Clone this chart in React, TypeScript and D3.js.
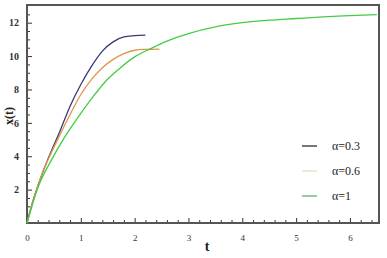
import React, { useEffect, useRef } from 'react';
import * as d3 from 'd3';

// alpha = 0.3
const tBlue = [0, 0.1, 0.2, 0.3, 0.45, 0.6, 0.8, 1.0, 1.2, 1.4, 1.6, 1.8, 2.0, 2.2];
const xBlue = [0, 1.2, 2.2, 3.1, 4.3, 5.4, 7.0, 8.3, 9.4, 10.3, 10.85, 11.15, 11.22, 11.26];

// alpha = 0.6
const tOrange = [0, 0.1, 0.2, 0.3, 0.45, 0.6, 0.8, 1.0, 1.2, 1.4, 1.6, 1.8, 2.0, 2.2, 2.46];
const xOrange = [0, 1.2, 2.2, 3.1, 4.2, 5.2, 6.5, 7.7, 8.6, 9.3, 9.8, 10.15, 10.35, 10.4, 10.42];

// alpha = 1
const tGreen = [0, 0.2, 0.45, 0.7, 0.95, 1.2, 1.45, 1.7, 2.0, 2.3, 2.6, 3.0, 3.5, 4.0, 4.5, 5.0, 5.5, 6.0, 6.5];
const xGreen = [0, 2.1, 3.75, 5.15, 6.35, 7.45, 8.45, 9.2, 9.95, 10.45, 10.9, 11.35, 11.75, 12.0, 12.15, 12.25, 12.35, 12.42, 12.48];

const legendLabels = ['α=0.3', 'α=0.6', 'α=1'];
const xTicks = [0, 1, 2, 3, 4, 5, 6];
const yTicks = [2, 4, 6, 8, 10, 12];

const App = () => {
  const ref = useRef<SVGSVGElement>(null);

  useEffect(() => {
    const width = 387;
    const height = 258;
    const margin = { top: 5, right: 8, bottom: 35, left: 27 };
    const innerWidth = width - margin.left - margin.right;
    const innerHeight = height - margin.top - margin.bottom;
    const font = '"Liberation Serif", "DejaVu Serif", serif';

    const svg = d3.select(ref.current);
    svg.selectAll('*').remove();

    const chart = svg.append('g')
      .attr('transform', `translate(${margin.left}, ${margin.top})`);

    const x = d3.scaleLinear().domain([0, 6.54]).range([0, innerWidth]);
    const y = d3.scaleLinear().domain([0, 13.06]).range([innerHeight, 0]);

    // minor ticks
    const xMinor = d3.range(0, 6.54, 0.2).filter(v => Math.abs(v - Math.round(v)) > 0.01);
    const yMinor = d3.range(0.5, 13, 0.5).filter(v => Math.abs(v / 2 - Math.round(v / 2)) > 0.01);

    chart.append('g')
      .attr('transform', `translate(0, ${innerHeight})`)
      .call(d3.axisBottom(x).tickValues(xMinor).tickSize(-3).tickFormat(() => ''))
      .call(g => g.select('.domain').remove())
      .call(g => g.selectAll('line').attr('stroke', '#333'));

    chart.append('g')
      .call(d3.axisLeft(y).tickValues(yMinor).tickSize(-3).tickFormat(() => ''))
      .call(g => g.select('.domain').remove())
      .call(g => g.selectAll('line').attr('stroke', '#333'));

    // major ticks
    chart.append('g')
      .attr('transform', `translate(0, ${innerHeight})`)
      .call(d3.axisBottom(x).tickValues(xTicks).tickSize(-5).tickPadding(12).tickFormat(d3.format('d')))
      .call(g => g.select('.domain').remove())
      .call(g => g.selectAll('line').attr('stroke', '#333'))
      .call(g => g.selectAll('text')
        .attr('font-family', font)
        .attr('font-size', 9)
        .attr('fill', '#333'));

    chart.append('g')
      .call(d3.axisLeft(y).tickValues(yTicks).tickSize(-5).tickPadding(8).tickFormat(d3.format('d')))
      .call(g => g.select('.domain').remove())
      .call(g => g.selectAll('line').attr('stroke', '#333'))
      .call(g => g.selectAll('text')
        .attr('font-family', font)
        .attr('font-size', 10)
        .attr('font-weight', 'bold')
        .attr('fill', '#333'));

    // frame
    chart.append('rect')
      .attr('x', 0)
      .attr('y', 0)
      .attr('width', innerWidth)
      .attr('height', innerHeight)
      .attr('fill', 'none')
      .attr('stroke', '#555')
      .attr('stroke-width', 2);

    const line = d3.line<[number, number]>()
      .x(d => x(d[0]))
      .y(d => y(d[1]))
      .curve(d3.curveMonotoneX);

    const series = [
      { t: tBlue, v: xBlue, color: '#3a3a78', legend: '#1a1a2a' },
      { t: tOrange, v: xOrange, color: '#e0954a', legend: '#e8d8c0' },
      { t: tGreen, v: xGreen, color: '#44cc44', legend: '#55aa55' },
    ];

    series.forEach(s => {
      chart.append('path')
        .datum(s.t.map((t, i) => [t, s.v[i]] as [number, number]))
        .attr('fill', 'none')
        .attr('stroke', s.color)
        .attr('stroke-width', 1.3)
        .attr('d', line);
    });

    // legend
    const legend = chart.append('g')
      .attr('transform', `translate(${302 - margin.left}, ${146 - margin.top})`);

    series.forEach((s, i) => {
      const row = legend.append('g').attr('transform', `translate(0, ${i * 25})`);
      row.append('line')
        .attr('x1', 0)
        .attr('x2', 15)
        .attr('stroke', s.legend)
        .attr('stroke-width', 1.2);
      row.append('text')
        .attr('x', 30)
        .attr('y', 4)
        .attr('font-family', font)
        .attr('font-size', 12)
        .attr('fill', '#222')
        .text(legendLabels[i]);
    });

    // axis labels
    svg.append('text')
      .attr('x', 207)
      .attr('y', 251)
      .attr('text-anchor', 'middle')
      .attr('font-family', font)
      .attr('font-size', 14)
      .attr('font-weight', 'bold')
      .attr('fill', '#222')
      .text('t');

    svg.append('text')
      .attr('transform', 'rotate(-90)')
      .attr('x', -116)
      .attr('y', 13)
      .attr('text-anchor', 'middle')
      .attr('font-family', font)
      .attr('font-size', 12)
      .attr('font-weight', 'bold')
      .attr('fill', '#222')
      .text('x(t)');
  }, []);

  return (
    <svg
      ref={ref}
      width={387}
      height={258}
      style={{ position: 'absolute', left: 0, top: 0, background: '#fff' }}
    />
  );
};

export default App;
